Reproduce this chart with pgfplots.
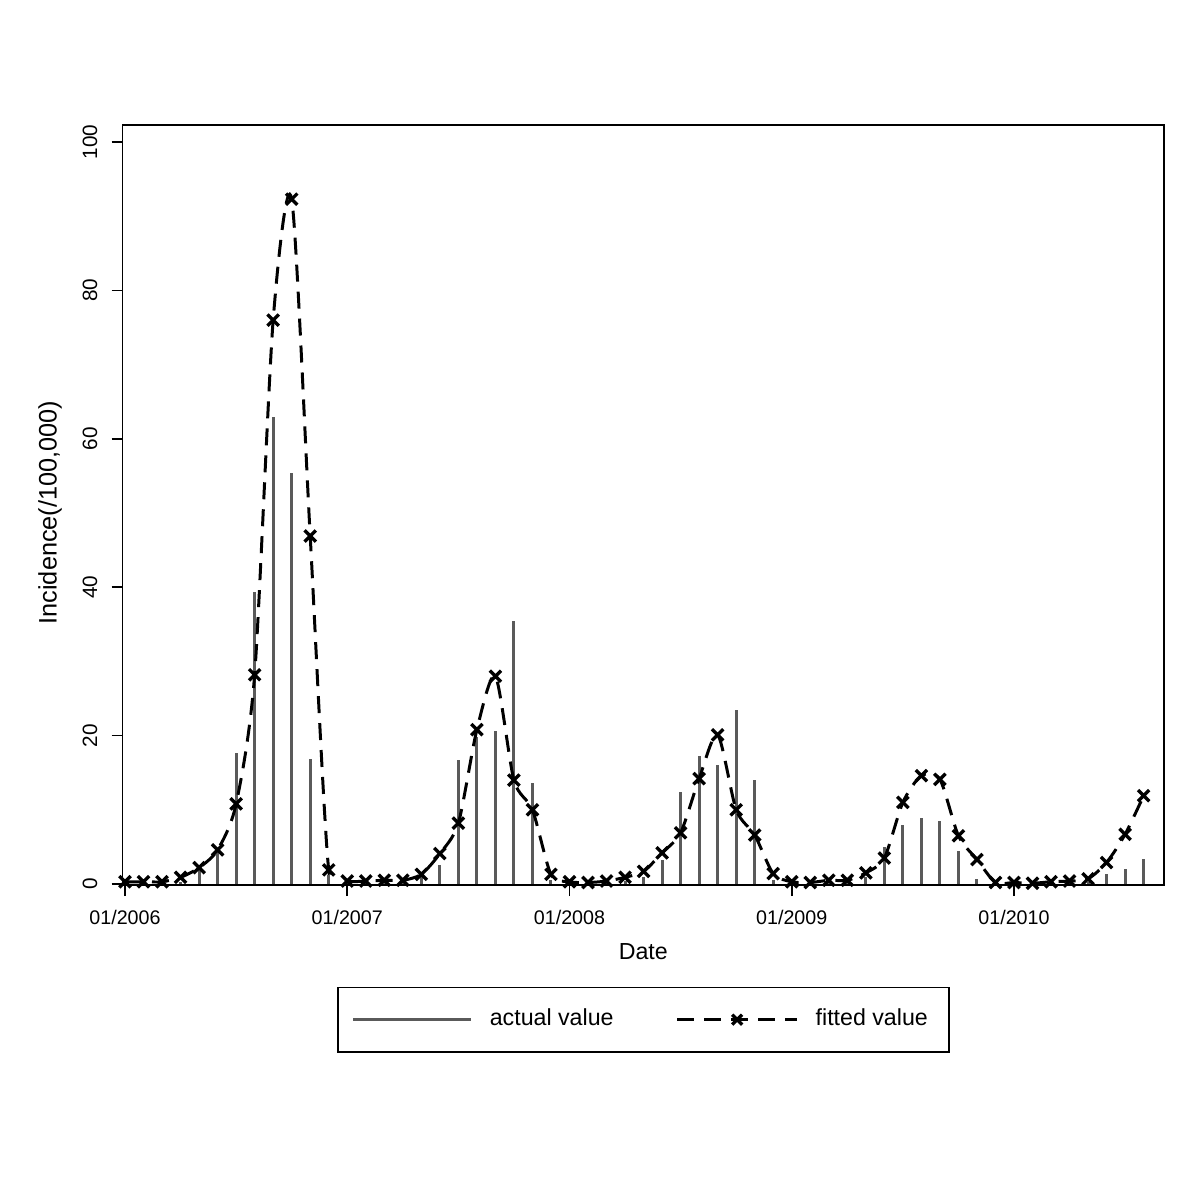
\documentclass[border=0pt]{standalone}
\usepackage{pgfplots}
\pgfplotsset{compat=1.18}
\usepackage{pgfplotstable}
\usepackage{fontspec}
\setmainfont{Liberation Sans}
\definecolor{bargray}{RGB}{90,90,90}

\pgfplotstableread{
m actual fitted
0 0.2 0.3
1 0.2 0.3
2 0.2 0.3
3 0.3 0.9
4 2.6 2.2
5 4.8 4.6
6 17.6 10.8
7 39.3 28.2
8 63.0 76.0
9 55.4 92.3
10 16.9 46.9
11 1.2 1.9
12 0.3 0.4
13 0.3 0.4
14 0.3 0.5
15 0.4 0.5
16 1.0 1.3
17 2.6 4.1
18 16.7 8.2
19 19.8 20.8
20 20.6 28.0
21 35.4 14.0
22 13.6 10.0
23 0.5 1.3
24 0.2 0.3
25 0.1 0.2
26 0.2 0.4
27 0.4 0.9
28 1.0 1.7
29 3.2 4.2
30 12.4 6.9
31 17.2 14.2
32 16.1 20.1
33 23.5 10.0
34 14.0 6.6
35 0.6 1.4
36 0.2 0.3
37 0.1 0.2
38 0.2 0.5
39 0.3 0.5
40 1.0 1.5
41 5.0 3.5
42 8.0 11.0
43 8.9 14.6
44 8.5 14.1
45 4.4 6.5
46 0.7 3.3
47 0.2 0.2
48 0.1 0.2
49 0.1 0.1
50 0.1 0.3
51 0.2 0.4
52 0.3 0.7
53 1.3 2.9
54 2.0 6.7
55 3.4 11.9
}\datatable

\begin{document}
\begin{tikzpicture}[x=1cm,y=1cm]
\path[use as bounding box] (0,0) rectangle (12,12);
\begin{axis}[
  at={(1.227cm,3.15cm)}, anchor=south west,
  width=10.413cm, height=7.6cm, scale only axis,
  xmin=-0.124, xmax=56.1, ymin=-0.135, ymax=102.3,
  axis line style={line width=0.45pt},
  xtick={0,12,24,36,48},
  xticklabels={01/2006,01/2007,01/2008,01/2009,01/2010},
  ytick={0,20,40,60,80,100},
  tick align=outside, tick pos=left,
  major tick length=1.1mm,
  tick style={line width=0.45pt, black},
  /pgf/number format/assume math mode=true,
  xticklabel style={font=\fontsize{5.6}{6}\selectfont, anchor=north, yshift=-0.2mm},
  yticklabel style={xshift=-0.2mm, rotate=90, anchor=south, font=\fontsize{5.9}{6.5}\selectfont},
  xlabel={Date},
  xlabel style={at={(axis description cs:0.5,-0.088)}, anchor=center, font=\fontsize{6.6}{7.5}\selectfont},
  ylabel={Incidence(/100,000)},
  ylabel style={at={(axis description cs:-0.0698,0.49)}, anchor=center, font=\fontsize{7.2}{8}\selectfont},
  legend style={at={(0.5,-0.134)}, anchor=north, draw=black, line width=0.45pt,
    font=\fontsize{6.6}{7.5}\selectfont, legend columns=2,
    inner xsep=1.4mm, inner ysep=1.4mm,
    /tikz/every odd column/.append style={column sep=1.0mm},
    /tikz/every even column/.append style={column sep=5.5mm}},
]
\addplot[ycomb, bargray, line width=0.85pt, no markers,
  legend image code/.code={\draw[bargray, line width=0.85pt] (0cm,0cm) -- (1.18cm,0cm);}]
  table[x=m, y=actual] {\datatable};
\addlegendentry{actual value}
\addplot[black, line width=0.85pt, dash pattern=on 1.7mm off 1.0mm, smooth, tension=0.45,
  mark=x, mark size=0.8mm, mark options={solid, line width=0.95pt},
  legend image code/.code={\draw[black, line width=0.85pt, dash pattern=on 1.7mm off 1.0mm] (0cm,0cm) -- (1.2cm,0cm); \draw[black, solid, line width=0.95pt] plot[mark=x, mark size=0.7mm] coordinates {(0.6cm,0cm)};}]
  table[x=m, y=fitted] {\datatable};
\addlegendentry{fitted value}
\end{axis}
\end{tikzpicture}
\end{document}
